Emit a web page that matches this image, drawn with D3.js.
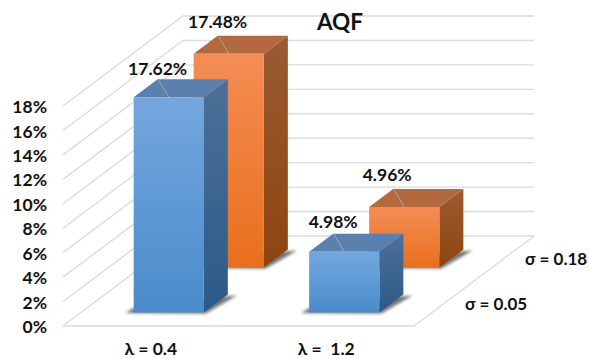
<!DOCTYPE html>
<html>
<head>
<meta charset="utf-8">
<script src="https://cdn.jsdelivr.net/npm/d3@7/dist/d3.min.js"></script>
<style>
html,body{margin:0;padding:0;background:#fff;}
svg{display:block;}
text{font-family:Lato,"Open Sans",sans-serif;font-weight:700;fill:#111;}
</style>
</head>
<body>
<svg id="chart" width="589" height="359"></svg>
<script>
// Chart values
const title = "AQF";
const categories = ["λ = 0.4", "λ =  1.2"];
const seriesNames = ["σ = 0.05", "σ = 0.18"];
const sigma005 = [17.62, 4.98];
const sigma018 = [17.48, 4.96];
const percentTicks = [0, 2, 4, 6, 8, 10, 12, 14, 16, 18];

// Oblique projection of the 3D box: width runs along x, depth goes up and to the right
const W = 351, DX = 120, DY = 90, ORIGIN = [63, 326], WALL = 220;
const uScale = d3.scaleBand().domain(categories).range([0, 1]).paddingInner(0.6).paddingOuter(0.3);
const vScale = d3.scaleBand().domain(seriesNames).range([0, 1]).paddingInner(0.6).paddingOuter(0.3);
const zScale = d3.scaleLinear().domain([0, 18]).range([0, WALL]);
const project = (u, v, z) => [ORIGIN[0] + u * W + v * DX, ORIGIN[1] - v * DY - zScale(z)];

const svg = d3.select("#chart");
const defs = svg.append("defs");
const blur = defs.append("filter").attr("id", "soft").attr("x", "-30%").attr("y", "-60%").attr("width", "160%").attr("height", "220%");
blur.append("feGaussianBlur").attr("stdDeviation", 1.6);

function gradient(id, top, bottom) {
  const g = defs.append("linearGradient").attr("id", id).attr("x1", 0).attr("y1", 0).attr("x2", 0).attr("y2", 1);
  g.append("stop").attr("offset", "0%").attr("stop-color", top);
  g.append("stop").attr("offset", "100%").attr("stop-color", bottom);
}
const palette = [
  { front: ["#74a7de", "#4a8bcb"], side: ["#4d7098", "#2b5a88"], top: "#5a80ad", name: "blue" },
  { front: ["#f48d55", "#e96f1c"], side: ["#9a5a33", "#8e450f"], top: "#b4683d", name: "orange" }
];
palette.forEach(p => {
  gradient(p.name + "Front", p.front[0], p.front[1]);
  gradient(p.name + "Side", p.side[0], p.side[1]);
});

const pathOf = pts => "M" + pts.map(p => p.join(",")).join("L") + "Z";
const grid = svg.append("g").attr("fill", "none").attr("stroke", "#dcdcdc").attr("stroke-width", 1.4);

// Side and back wall gridlines
percentTicks.forEach(t => {
  const a = project(0, 0, t), b = project(0, 1, t), c = project(1, 1, t);
  grid.append("polyline").attr("points", [a, b, c].map(p => p.join(",")).join(" "));
});

// Floor edges
const f0 = project(0, 0, 0), f1 = project(1, 0, 0), f2 = project(1, 1, 0);
grid.append("polyline").attr("points", [f0, f1, f2].map(p => p.join(",")).join(" "));

// Axis labels
svg.append("g").selectAll("text").data(percentTicks).join("text")
  .attr("x", 47).attr("y", d => project(0, 0, d)[1] + 1)
  .attr("dy", "0.35em").attr("text-anchor", "end").attr("font-size", 17.5)
  .text(d => d + "%");

svg.append("text").attr("x", 340).attr("y", 30).attr("text-anchor", "middle").attr("font-size", 22.5).text(title);

svg.append("g").selectAll("text").data(categories).join("text")
  .attr("x", d => project(uScale(d) + uScale.bandwidth() / 2, 0, 0)[0])
  .attr("y", 355).attr("text-anchor", "middle").attr("font-size", 17.5)
  .style("white-space", "pre").text(d => d);

svg.append("g").selectAll("text").data(seriesNames).join("text")
  .attr("x", d => project(1, vScale(d) + vScale.bandwidth() / 2, 0)[0] + 21)
  .attr("y", d => project(1, vScale(d) + vScale.bandwidth() / 2, 0)[1] + 6.5)
  .attr("font-size", 17).text(d => d);

// Bars, back row first so the front row overlaps them
const rows = [
  { values: sigma018, series: seriesNames[1], colors: palette[1], lift: [-14, -14] },
  { values: sigma005, series: seriesNames[0], colors: palette[0], lift: [-10, -12] }
];

rows.forEach(row => {
  row.values.forEach((value, i) => {
    const u0 = uScale(categories[i]), u1 = u0 + uScale.bandwidth();
    const v0 = vScale(row.series), v1 = v0 + vScale.bandwidth();
    const g = svg.append("g");

    const fbl = project(u0, v0, 0), fbr = project(u1, v0, 0), bbr = project(u1, v1, 0);
    const ftl = project(u0, v0, value), ftr = project(u1, v0, value);
    const btl = project(u0, v1, value), btr = project(u1, v1, value);

    // Floor shadow along the front and right sides
    g.append("path")
      .attr("d", pathOf([
        [fbl[0] - 8, fbl[1] + 0.5], [fbl[0] - 1, fbl[1] - 4],
        [bbr[0] - 4, bbr[1] + 2], [bbr[0] + 9, bbr[1] + 1],
        [fbr[0] + 2, fbr[1] + 1]
      ]))
      .attr("fill", "#444").attr("opacity", 0.75).attr("filter", "url(#soft)");

    g.append("path").attr("d", pathOf([ftr, btr, bbr, fbr])).attr("fill", `url(#${row.colors.name}Side)`);
    g.append("path").attr("d", pathOf([ftl, btl, btr, ftr])).attr("fill", row.colors.top);
    g.append("path").attr("d", pathOf([ftl, ftr, fbr, fbl])).attr("fill", `url(#${row.colors.name}Front)`);

    // Leader line and value label
    const mid = project((u0 + u1) / 2, v0, value);
    g.append("line")
      .attr("x1", btl[0] + 1).attr("y1", btl[1] + 1)
      .attr("x2", mid[0]).attr("y2", mid[1])
      .attr("stroke", "#a9a9a9").attr("stroke-width", 1);
    g.append("text")
      .attr("x", btl[0] - (row.series === seriesNames[1] && i === 1 ? 6 : 0))
      .attr("y", btl[1] + row.lift[i])
      .attr("dy", "0.35em").attr("text-anchor", "middle").attr("font-size", 17.5)
      .text(d3.format(".2f")(value) + "%");
  });
});
</script>
</body>
</html>
